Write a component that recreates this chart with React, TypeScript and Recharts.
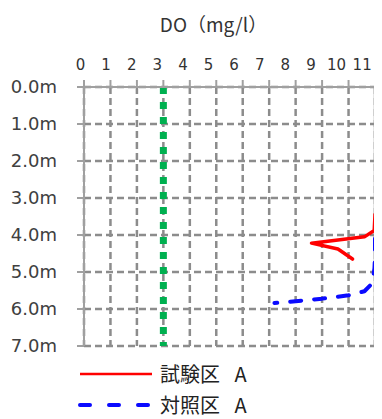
import React from 'react';
import { ScatterChart, Scatter, XAxis, YAxis, CartesianGrid, ReferenceLine, Legend } from 'recharts';

const xTicks = [0, 1, 2, 3, 4, 5, 6, 7, 8, 9, 10, 11];
const depthTicks = [0, 1, 2, 3, 4, 5, 6, 7];
const titleText = 'DO（mg/l）';
const referenceDO = 3;
const rightEdge = [
  { x: 11, d: 0 },
  { x: 11, d: 7 },
];

const testName = '試験区 A';
const testData = [
  { x: 11, d: 3.45 },
  { x: 10.97, d: 3.88 },
  { x: 10.6, d: 4.05 },
  { x: 8.6, d: 4.22 },
  { x: 9.6, d: 4.38 },
  { x: 10.15, d: 4.65 },
];

const controlName = '対照区 A';
const controlData = [
  { x: 11, d: 4.1 },
  { x: 11, d: 4.6 },
  { x: 10.98, d: 4.9 },
  { x: 10.9, d: 5.3 },
  { x: 10.6, d: 5.52 },
  { x: 10, d: 5.63 },
  { x: 9, d: 5.72 },
  { x: 8, d: 5.79 },
  { x: 7.2, d: 5.84 },
];

const legendOrder = [testName, controlName];
const legendStyles: Record<string, { stroke: string; width: number; dash?: string; cap: 'round' | 'butt' }> = {
  [testName]: { stroke: '#ff0000', width: 2.5, cap: 'butt' },
  [controlName]: { stroke: '#0a0aff', width: 4, dash: '10 19', cap: 'round' },
};

const XTick = (props: any) => {
  const { x, y, payload, index } = props;
  const off = -3.5 - 0.85 * (index ?? 0);
  return (
    <text x={x + off} y={y} textAnchor="middle" fontSize={15} fill="#333" fontFamily="'DejaVu Sans', sans-serif">
      {payload.value}
    </text>
  );
};

const YTick = (props: any) => {
  const { x, y, payload } = props;
  return (
    <text x={x} y={y} dy={6} textAnchor="end" fontSize={18} fill="#404040" fontFamily="'DejaVu Sans', sans-serif">
      {Number(payload.value).toFixed(1) + 'm'}
    </text>
  );
};

const TitleLabel = (props: any) => {
  const vb = props.viewBox || {};
  return (
    <text
      x={vb.x + vb.width / 2 - 16}
      y={vb.y - 25}
      textAnchor="middle"
      fontSize={19}
      fill="#333"
      fontFamily="'Noto Sans CJK JP', sans-serif"
    >
      {titleText}
    </text>
  );
};

const LegendContent = (props: any) => {
  const payload = [...(props.payload || [])]
    .filter((e: any) => legendOrder.includes(e.value))
    .sort((a: any, b: any) => legendOrder.indexOf(a.value) - legendOrder.indexOf(b.value));
  return (
    <div style={{ fontFamily: "'Noto Sans CJK JP', sans-serif", fontSize: 20, color: '#222' }}>
      {payload.map((entry: any) => {
        const st = legendStyles[entry.value] || { stroke: entry.color, width: 3, cap: 'butt' };
        return (
          <div key={entry.value} style={{ display: 'flex', alignItems: 'center', height: 31 }}>
            <svg width={82} height={12} style={{ display: 'block' }}>
              <line
                x1={2}
                x2={74}
                y1={6}
                y2={6}
                stroke={st.stroke}
                strokeWidth={st.width}
                strokeDasharray={st.dash}
                strokeLinecap={st.cap}
              />
            </svg>
            <span style={{ whiteSpace: 'pre', wordSpacing: 10, lineHeight: '31px' }}>{entry.value}</span>
          </div>
        );
      })}
    </div>
  );
};

export default function App() {
  return (
    <div style={{ width: 374, height: 411 }}>
      <ScatterChart width={374} height={411} margin={{ top: 49, right: 7, bottom: 73, left: 0 }}>
        <CartesianGrid stroke="#8c8c8c" strokeWidth={2.5} strokeDasharray="7 4" />
        <XAxis
          type="number"
          dataKey="x"
          orientation="top"
          domain={[0, 11]}
          ticks={xTicks}
          interval={0}
          height={30}
          tickSize={7}
          tickMargin={10}
          tick={<XTick />}
          axisLine={{ stroke: '#a0a0a0', strokeWidth: 2 }}
          tickLine={{ stroke: '#a0a0a0', strokeWidth: 2 }}
          label={{ value: titleText, content: <TitleLabel /> }}
        />
        <YAxis
          type="number"
          dataKey="d"
          domain={[0, 7]}
          ticks={depthTicks}
          interval={0}
          reversed
          width={76}
          tickSize={7}
          tickMargin={20}
          tick={<YTick />}
          axisLine={{ stroke: '#a0a0a0', strokeWidth: 2 }}
          tickLine={{ stroke: '#a0a0a0', strokeWidth: 2 }}
        />
        <ReferenceLine x={referenceDO} stroke="#00b050" strokeWidth={7} strokeDasharray="7 8" />
        <Scatter
          name="edge"
          data={rightEdge}
          fill="#999"
          legendType="none"
          line={{ stroke: '#999', strokeWidth: 2.5 }}
          shape={() => <g />}
          isAnimationActive={false}
        />
        <Scatter
          name={testName}
          data={testData}
          fill="#ff0000"
          line={{ stroke: '#ff0000', strokeWidth: 3.5, strokeLinejoin: 'round', strokeLinecap: 'round' }}
          shape={() => <g />}
          isAnimationActive={false}
        />
        <Scatter
          name={controlName}
          data={controlData}
          fill="#0a0aff"
          line={{ stroke: '#0a0aff', strokeWidth: 4, strokeDasharray: '11 13', strokeLinecap: 'round', strokeLinejoin: 'round' }}
          shape={() => <g />}
          isAnimationActive={false}
        />
        <Legend
          layout="horizontal"
          verticalAlign="middle"
          align="center"
          content={<LegendContent />}
          wrapperStyle={{ top: 350, left: 70, width: 300, height: 62 }}
        />
      </ScatterChart>
    </div>
  );
}
